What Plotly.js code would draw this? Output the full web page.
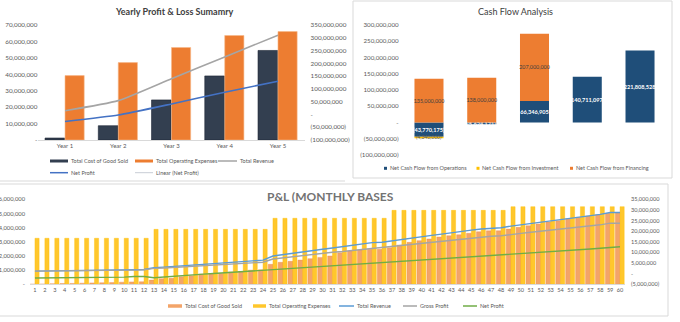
<!DOCTYPE html>
<html><head><meta charset="utf-8">
<script src="https://cdn.plot.ly/plotly-3.0.1.min.js"></script>
<style>html,body{margin:0;padding:0;background:#fff;}#chart{width:680px;height:322px;}</style>
</head><body><div id="chart"></div>
<script>
// ---------- Yearly Profit & Loss Summary ----------
const years = ['Year 1', 'Year 2', 'Year 3', 'Year 4', 'Year 5'];
const yearCOGS = [1200000, 8700000, 24400000, 39000000, 54500000];
const yearOpex = [39200000, 47100000, 56300000, 63600000, 66000000];
const yearRevenue = [14600000, 54000000, 140000000, 225000000, 310000000];
const yearNetProfit = [-27600000, -2400000, 41000000, 87000000, 130000000];

// ---------- Cash Flow Analysis ----------
const cfPeriods = ['Year 1', 'Year 2', 'Year 3', 'Year 4', 'Year 5'];
const cfOperations = [-43770175, -5624171, 66346905, 140711097, 221808528];
const cfInvestment = [-4340000, 0, 0, 0, 0];
const cfFinancing = [135000000, 138000000, 207000000, 0, 0];

// ---------- P&L monthly ----------
const months = ['1','2','3','4','5','6','7','8','9','10','11','12','13','14','15','16','17','18','19','20',
 '21','22','23','24','25','26','27','28','29','30','31','32','33','34','35','36','37','38','39','40',
 '41','42','43','44','45','46','47','48','49','50','51','52','53','54','55','56','57','58','59','60'];
const monthOpex = [
 3250000,3250000,3250000,3250000,3250000,3250000,3250000,3250000,3250000,3250000,3250000,3250000,
 3880000,3880000,3880000,3880000,3880000,3880000,3880000,3880000,3880000,3880000,3880000,3880000,
 4660000,4660000,4660000,4660000,4660000,4660000,4660000,4660000,4660000,4660000,4660000,4660000,
 5220000,5220000,5220000,5220000,5220000,5220000,5220000,5220000,5220000,5220000,5220000,5220000,
 5480000,5480000,5480000,5480000,5480000,5480000,5480000,5480000,5480000,5480000,5480000,5480000];
const monthCOGS = [
 10000,20000,40000,50000,60000,80000,100000,110000,120000,150000,170000,180000,
 300000,400000,420000,540000,600000,720000,740000,760000,870000,900000,1000000,1020000,
 1410000,1550000,1620000,1710000,1810000,1900000,2000000,2230000,2350000,2420000,2470000,2470000,
 2580000,2770000,2960000,3080000,3200000,3340000,3430000,3500000,3600000,3710000,3780000,3780000,
 3900000,4020000,4130000,4260000,4400000,4490000,4630000,4730000,4820000,4910000,5010000,5050000];
const monthRevenue = [
 1220000,1250000,1300000,1350000,1400000,1450000,1520000,1600000,1680000,1760000,1850000,2000000,
 2800000,3100000,3400000,3800000,4100000,4400000,4700000,5000000,5400000,5700000,6000000,6400000,
 8300000,9000000,9600000,10300000,10900000,11500000,12100000,12700000,13300000,14000000,14600000,14800000,
 15500000,16100000,16800000,17400000,18000000,18600000,19300000,19900000,20500000,21000000,21400000,21600000,
 22400000,23000000,23600000,24200000,24800000,25400000,25900000,26600000,27200000,27900000,28800000,28800000];
const monthGrossProfit = [
 1210000,1230000,1260000,1300000,1340000,1370000,1420000,1490000,1560000,1610000,1680000,1820000,
 2500000,2700000,2980000,3260000,3500000,3680000,3960000,4240000,4530000,4800000,5000000,5380000,
 6890000,7450000,7980000,8590000,9090000,9600000,10100000,10470000,10950000,11580000,12130000,12330000,
 12920000,13330000,13840000,14320000,14800000,15260000,15870000,16400000,16900000,17290000,17620000,17820000,
 18500000,18980000,19470000,19940000,20400000,20910000,21270000,21870000,22380000,22990000,23790000,23750000];
const monthNetProfit = [
 -2050000,-2030000,-2000000,-1970000,-1940000,-1900000,-1850000,-1800000,-1700000,-1600000,-1350000,-1300000,
 -1900000,-1500000,-1200000,-900000,-500000,-200000,100000,400000,700000,1000000,1400000,1700000,
 2000000,2300000,2600000,2900000,3200000,3500000,3700000,4000000,4300000,4600000,4900000,5200000,
 5400000,5700000,6000000,6400000,6700000,7000000,7300000,7600000,7900000,8200000,8600000,8900000,
 9200000,9500000,9800000,10100000,10400000,10700000,11000000,11300000,11600000,12000000,12400000,12700000];

// ---------- tick labels ----------
const ylLeftVals = [0,10000000,20000000,30000000,40000000,50000000,60000000,70000000];
const ylLeftText = ['-','10,000,000','20,000,000','30,000,000','40,000,000','50,000,000','60,000,000','70,000,000'];
const ylRightVals = [-100000000,-50000000,0,50000000,100000000,150000000,200000000,250000000,300000000,350000000];
const ylRightText = ['(100,000,000)','(50,000,000)','-','50,000,000','100,000,000','150,000,000','200,000,000','250,000,000','300,000,000','350,000,000'];
const cfVals = [-100000000,-50000000,0,50000000,100000000,150000000,200000000,250000000,300000000];
const cfText = ['(100,000,000)','(50,000,000)','-','50,000,000','100,000,000','150,000,000','200,000,000','250,000,000','300,000,000'];
const plLeftVals = [0,1000000,2000000,3000000,4000000,5000000,6000000];
const plLeftText = ['-','1,000,000','2,000,000','3,000,000','4,000,000','5,000,000','6,000,000'];
const plRightVals = [-5000000,0,5000000,10000000,15000000,20000000,25000000,30000000,35000000];
const plRightText = ['(5,000,000)','-','5,000,000','10,000,000','15,000,000','20,000,000','25,000,000','30,000,000','35,000,000'];

// ---------- helpers ----------
const W = 680, H = 322;
const fx = x => x / W, fy = y => 1 - y / H;
const FONT = 'Lato, "Open Sans", sans-serif';
const GRAY = '#595959';
const fmtLabel = v => v === 0 ? '' : (v < 0 ? '(' + Math.abs(v).toLocaleString('en-US') + ')' : v.toLocaleString('en-US'));

const C = {navy:'#333F50', orange:'#ED7D31', gray:'#A5A5A5', blue:'#4472C4',
  cfNavy:'#1F4E79', cfYellow:'#FFC000', cfOrange:'#ED7D31',
  plOrange:'#F3A469', plYellow:'#FFC72C', plBlue:'#5B9BD5', plGray:'#A5A5A5', plGreen:'#70AD47'};

const cfTextCommon = {textposition:'inside', insidetextanchor:'middle', textangle:0, constraintext:'none', cliponaxis:false};

const traces = [
  // Yearly
  {type:'bar', name:'Total Cost of Good Sold', x:years, y:yearCOGS, xaxis:'x', yaxis:'y',
   offset:-0.375, width:0.37, marker:{color:C.navy, line:{color:'#1B2433', width:0.6}}},
  {type:'bar', name:'Total Operating Expenses', x:years, y:yearOpex, xaxis:'x', yaxis:'y2',
   offset:0.0, width:0.36, marker:{color:C.orange, line:{color:'#F6B88A', width:0.6}}},
  {type:'scatter', mode:'lines', name:'Total Revenue', x:years, y:yearRevenue, xaxis:'x', yaxis:'y3',
   line:{color:C.gray, width:1.6, shape:'spline', smoothing:0.5}},
  {type:'scatter', mode:'lines', name:'Net Profit', x:years, y:yearNetProfit, xaxis:'x', yaxis:'y3',
   line:{color:C.blue, width:1.6, shape:'spline', smoothing:0.5}},
  // Cash flow
  Object.assign({type:'bar', name:'Net Cash Flow from Operations', x:cfPeriods, y:cfOperations, xaxis:'x2', yaxis:'y4',
   width:0.55, marker:{color:C.cfNavy}, text:cfOperations.map(fmtLabel),
   textfont:{family:FONT, size:5.6, color:'#ffffff', weight:'bold'}}, cfTextCommon),
  Object.assign({type:'bar', name:'Net Cash Flow from Investment', x:cfPeriods, y:cfInvestment, xaxis:'x2', yaxis:'y4',
   width:0.55, marker:{color:C.cfYellow}, text:cfInvestment.map(fmtLabel),
   textfont:{family:FONT, size:5, color:GRAY}}, cfTextCommon),
  Object.assign({type:'bar', name:'Net Cash Flow from Financing', x:cfPeriods, y:cfFinancing, xaxis:'x2', yaxis:'y4',
   width:0.55, marker:{color:C.cfOrange}, text:cfFinancing.map(fmtLabel),
   textfont:{family:FONT, size:5.4, color:'#404040'}}, cfTextCommon),
  // Monthly P&L
  {type:'bar', name:'Total Cost of Good Sold', x:months, y:monthCOGS, xaxis:'x3', yaxis:'y5',
   offset:-0.48, width:0.5, marker:{color:C.plOrange, line:{color:'#EE9050', width:0.4}}},
  {type:'bar', name:'Total Operating Expenses', x:months, y:monthOpex, xaxis:'x3', yaxis:'y6',
   offset:0.0, width:0.42, marker:{color:C.plYellow, line:{color:'#FFC000', width:0.4}}},
  {type:'scatter', mode:'lines', name:'Total Revenue', x:months, y:monthRevenue, xaxis:'x3', yaxis:'y7',
   line:{color:C.plBlue, width:1.4}},
  {type:'scatter', mode:'lines', name:'Gross Profit', x:months, y:monthGrossProfit, xaxis:'x3', yaxis:'y7',
   line:{color:C.plGray, width:1.4}},
  {type:'scatter', mode:'lines', name:'Net Profit', x:months, y:monthNetProfit, xaxis:'x3', yaxis:'y7',
   line:{color:C.plGreen, width:1.4}}
];

const yBase = {showgrid:false, zeroline:false, showline:false, ticks:'', tickmode:'array', fixedrange:true};

const layout = {
  width:W, height:H, margin:{l:0, r:0, t:0, b:0, pad:0},
  paper_bgcolor:'#ffffff', plot_bgcolor:'rgba(0,0,0,0)',
  showlegend:false, barmode:'relative', hovermode:false,
  font:{family:FONT, size:6.5, color:GRAY},
  xaxis:{domain:[fx(38.4), fx(304.6)], anchor:'y', type:'category', showline:true, linecolor:'#D9D9D9', linewidth:1,
    ticks:'', showgrid:false, zeroline:false, tickfont:{size:6}, tickangle:0, fixedrange:true},
  yaxis:Object.assign({domain:[fy(140), fy(25)], anchor:'x', range:[0, 70000000],
    tickvals:ylLeftVals, ticktext:ylLeftText, tickfont:{size:6.3}}, yBase),
  yaxis2:{overlaying:'y', anchor:'x', range:[0, 70000000], visible:false, fixedrange:true},
  yaxis3:Object.assign({overlaying:'y', anchor:'x', side:'right', range:[-100000000, 350000000],
    tickvals:ylRightVals, ticktext:ylRightText, tickfont:{size:6.3}, ticklabelstandoff:5}, yBase),
  xaxis2:{domain:[fx(402.6), fx(666.4)], anchor:'y4', type:'category', showticklabels:false, showline:false,
    showgrid:false, zeroline:false, ticks:'', fixedrange:true},
  yaxis4:Object.assign({domain:[fy(155), fy(25)], anchor:'x2', range:[-100000000, 300000000],
    tickvals:cfVals, ticktext:cfText, tickfont:{size:6.2}, ticklabelstandoff:3}, yBase),
  xaxis3:{domain:[fx(30), fx(625)], anchor:'y5', type:'category', showline:true, linecolor:'#D9D9D9', linewidth:1,
    ticks:'', showgrid:false, zeroline:false, tickmode:'array', tickvals:months, ticktext:months,
    tickfont:{size:5.6}, tickangle:0, fixedrange:true},
  yaxis5:Object.assign({domain:[fy(284.3), fy(199.3)], anchor:'x3', range:[0, 6000000],
    tickvals:plLeftVals, ticktext:plLeftText, tickfont:{size:5.8}, ticklabelstandoff:4}, yBase),
  yaxis6:{overlaying:'y5', anchor:'x3', range:[0, 6000000], visible:false, fixedrange:true},
  yaxis7:Object.assign({overlaying:'y5', anchor:'x3', side:'right', range:[-5000000, 35000000],
    tickvals:plRightVals, ticktext:plRightText, tickfont:{size:5.6}, ticklabelstandoff:5}, yBase),
  shapes:[], annotations:[]
};

const shapes = layout.shapes, ann = layout.annotations;
// panel borders
const border = '#D9D9D9';
shapes.push({type:'rect', xref:'paper', yref:'paper', x0:fx(353), x1:fx(672), y0:fy(178), y1:fy(1), line:{color:border, width:1}, layer:'below'});
shapes.push({type:'line', xref:'paper', yref:'paper', x0:0, x1:fx(345), y0:fy(181), y1:fy(181), line:{color:border, width:1}, layer:'below'});
shapes.push({type:'rect', xref:'paper', yref:'paper', x0:fx(-2), x1:fx(668), y0:fy(316), y1:fy(184), line:{color:border, width:1}, layer:'below'});

// titles
ann.push({xref:'paper', yref:'paper', x:fx(174.5), y:fy(11.5), xanchor:'center', yanchor:'middle', showarrow:false,
  text:'Yearly Profit & Loss Sumamry', font:{family:FONT, size:9, color:'#404040', weight:'bold'}});
ann.push({xref:'paper', yref:'paper', x:fx(515), y:fy(11), xanchor:'center', yanchor:'middle', showarrow:false,
  text:'Cash Flow Analysis', font:{family:FONT, size:9, color:'#404040'}});
ann.push({xref:'paper', yref:'paper', x:fx(330), y:fy(196), xanchor:'center', yanchor:'middle', showarrow:false,
  text:'P&L (MONTHLY BASES', font:{family:FONT, size:12, color:'#737373', weight:'bold'}});

// manual legends
function legendItem(kind, color, x0, x1, y, label, tx, opts) {
  opts = opts || {};
  if (kind === 'rect') {
    const h = opts.h || 3;
    shapes.push({type:'rect', xref:'paper', yref:'paper', x0:fx(x0), x1:fx(x1), y0:fy(y + h/2), y1:fy(y - h/2),
      fillcolor:color, line:{width:0}});
  } else {
    shapes.push({type:'line', xref:'paper', yref:'paper', x0:fx(x0), x1:fx(x1), y0:fy(y), y1:fy(y),
      line:{color:color, width:opts.w || 1.5}});
  }
  ann.push({xref:'paper', yref:'paper', x:fx(tx), y:fy(y), xanchor:'left', yanchor:'middle', showarrow:false,
    borderpad:0, text:label, font:{family:FONT, size:opts.size || 5.5, color:GRAY}});
}
// yearly legend
legendItem('rect', C.navy, 50, 68, 161, traces[0].name, 69.5);
legendItem('rect', C.orange, 135, 153, 161, traces[1].name, 154.5);
legendItem('line', C.gray, 218, 237, 161, traces[2].name, 238.5);
legendItem('line', C.blue, 50, 68, 172.7, traces[3].name, 69.5);
legendItem('line', '#C8CDD6', 135, 153, 172.7, 'Linear (Net Profit)', 154.5, {w:1});
// cash flow legend
legendItem('rect', C.cfNavy, 384, 387, 168.3, traces[4].name, 388.5, {h:3});
legendItem('rect', C.cfYellow, 476.5, 479.5, 168.3, traces[5].name, 481, {h:3});
legendItem('rect', C.cfOrange, 570, 573, 168.3, traces[6].name, 575, {h:3});
// monthly legend
legendItem('rect', C.plOrange, 168, 182, 306, traces[7].name, 183.5, {h:3.5});
legendItem('rect', C.plYellow, 253, 266, 306, traces[8].name, 267.5, {h:3.5});
legendItem('line', C.plBlue, 339, 354, 306, traces[9].name, 355.5);
legendItem('line', C.plGray, 403, 417, 306, traces[10].name, 418.5);
legendItem('line', C.plGreen, 463, 477, 306, traces[11].name, 478.5);

Plotly.newPlot('chart', traces, layout, {staticPlot:true, displayModeBar:false});
</script>
</body></html>
